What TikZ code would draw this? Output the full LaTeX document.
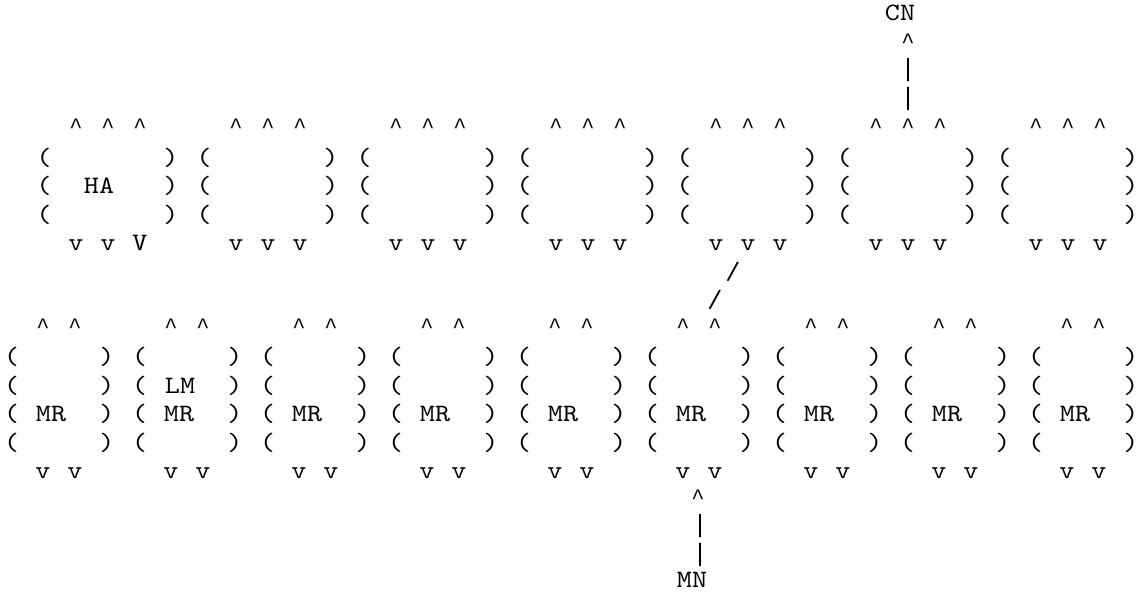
\documentclass[tikz,border=0pt]{standalone}
\usepackage{fontspec}
\newfontfamily\artfont{lmmono10-regular.otf}[FakeStretch=1.15]
\newfontfamily\caretfont{Liberation Mono}
\begin{document}
\begin{tikzpicture}[x=1pt,y=-28.5pt,
    ch/.style={anchor=base,inner sep=0pt,font=\fontsize{25}{28}\artfont},
    hat/.style={ch,yshift=3pt,font=\fontsize{22}{26}\caretfont},
    bar/.style={ch,font=\fontsize{25}{28}\caretfont}]
    \useasboundingbox (0,0) rectangle (1140,20.98);
    % upper row of hub boxes
    \foreach \k in {0,...,6} {
        \foreach \r in {5,6,7} {
            \node[ch] (top\k-l\r) at ({44+160*\k},\r.79) {(};
            \node[ch] (top\k-r\r) at ({171+160*\k},\r.79) {)};
        }
        \foreach \p [count=\i] in {76,108,140}
            \node[hat] (top\k-in\i) at ({\p+160*\k},4.79) {\textasciicircum};
    }
    \foreach \k in {1,...,6}
        \foreach \p [count=\i] in {76,108,140}
            \node[ch] (top\k-out\i) at ({\p+160*\k},8.79) {v};
    \foreach \p/\t [count=\i] in {76/v,108/v,140/V}
        \node[ch] (top0-out\i) at (\p,8.79) {\t};
    \node[ch] (ha) at (99,6.79) {HA};
    % lower row of MR boxes
    \foreach \j in {0,...,8} {
        \foreach \r in {12,...,15} {
            \node[ch] (mr\j-l\r) at ({11.5+128*\j},\r.79) {(};
            \node[ch] (mr\j-r\r) at ({107+128*\j},\r.79) {)};
        }
        \foreach \p [count=\i] in {43,75} {
            \node[hat] (mr\j-in\i) at ({\p+128*\j},11.79) {\textasciicircum};
            \node[ch] (mr\j-out\i) at ({\p+128*\j},16.79) {v};
        }
        \node[ch] (mr\j) at ({51+128*\j},14.79) {MR};
    }
    \node[ch] (lm) at (180,13.79) {LM};
    % CN on top
    \node[ch] (cn) at (900,0.72) {CN};
    \node[hat] (cn-in) at (908,1.79) {\textasciicircum};
    \node[bar] (cn-bar1) at (908,2.7) {|};
    \node[bar] (cn-bar2) at (908,3.7) {|};
    % link between the rows
    \node[ch] (link1) at (733,9.79) {/};
    \node[ch] (link2) at (715,10.79) {/};
    % MN below
    \node[hat] (mn-in) at (698,17.79) {\textasciicircum};
    \node[bar] (mn-bar1) at (700,18.7) {|};
    \node[bar] (mn-bar2) at (700,19.7) {|};
    \node[ch] (mn) at (692,20.6) {MN};
\end{tikzpicture}
\end{document}
